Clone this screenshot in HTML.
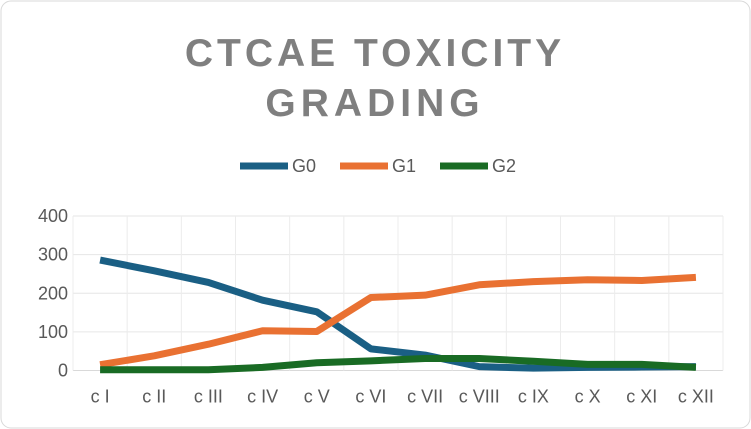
<!DOCTYPE html>
<html><head><meta charset="utf-8"><style>
html,body{margin:0;padding:0;background:#fff;}
svg{display:block;font-family:"Liberation Sans",sans-serif;}
</style></head><body>
<svg id="chart" width="751" height="429">
<rect x="1" y="1" width="749" height="427" rx="10" fill="#fff" stroke="#d9d9d9"/>
<text x="375" y="66" text-anchor="middle" font-size="39" font-weight="bold" fill="#7f7f7f" letter-spacing="4">CTCAE TOXICITY</text>
<text x="375" y="116" text-anchor="middle" font-size="39" font-weight="bold" fill="#7f7f7f" letter-spacing="5">GRADING</text>
<g id="legend"></g>
<g id="grid"></g>
<g id="yticks"></g>
<g id="xticks"></g>
<g id="series"></g>
</svg>
<script>
const categories=["c I","c II","c III","c IV","c V","c VI","c VII","c VIII","c IX","c X","c XI","c XII"];
const g0=[286,258,228,182,152,56,40,10,6,8,9,10];
const g1=[15,38,68,103,101,189,195,222,230,235,233,241];
const g2=[2,2,2,8,20,25,31,31,24,16,16,8];
const yTicks=[0,100,200,300,400];
const seriesNames=["G0","G1","G2"];
const seriesColors=["#1a5f84","#e97132","#196b24"];
const NS="http://www.w3.org/2000/svg";
const L=73,R=723,T=216,B=370.5,yMax=400;
const bw=(R-L)/categories.length;
const xs=i=>L+bw*(i+0.5);
const ys=v=>B-(v/yMax)*(B-T);
function mk(tag,attrs,parent){const e=document.createElementNS(NS,tag);for(const k in attrs)e.setAttribute(k,attrs[k]);parent.appendChild(e);return e;}
const grid=document.getElementById('grid'),yt=document.getElementById('yticks'),xt=document.getElementById('xticks'),sg=document.getElementById('series'),lg=document.getElementById('legend');
yTicks.forEach(v=>{
  const l=mk('line',{x1:L,x2:R,y1:ys(v),y2:ys(v),stroke:v===0?'#d9d9d9':'#e6e6e6','stroke-width':1},grid);
  
  
  const t=mk('text',{x:L-5,y:ys(v)+6,'text-anchor':'end','font-size':18,fill:'#595959'},yt);
  t.textContent=v;
  
  
});
for(let i=0;i<=categories.length;i++){
  const l=mk('line',{x1:L+bw*i,x2:L+bw*i,y1:T,y2:B,stroke:'#ececec','stroke-width':1},grid);
  
  
}
categories.forEach((c,i)=>{
  const t=mk('text',{x:xs(i),y:ys(0)+32,'text-anchor':'middle','font-size':18,fill:'#595959'},xt);
  t.textContent=c;
  
  
});
[g0,g1,g2].forEach((arr,si)=>{
  const p=mk('polyline',{points:arr.map((v,i)=>xs(i)+','+ys(v)).join(' '),fill:'none',stroke:seriesColors[si],'stroke-width':7,'stroke-linejoin':'round'},sg);
  
  
});
seriesNames.forEach((n,i)=>{
  const x0=240+i*100;
  const l=mk('line',{x1:x0,x2:x0+48,y1:166,y2:166,stroke:seriesColors[i],'stroke-width':7},lg);
  
  
  const t=mk('text',{x:x0+52,y:172,'font-size':18,fill:'#595959'},lg);
  t.textContent=n;
  
  
});
</script>
</body></html>
